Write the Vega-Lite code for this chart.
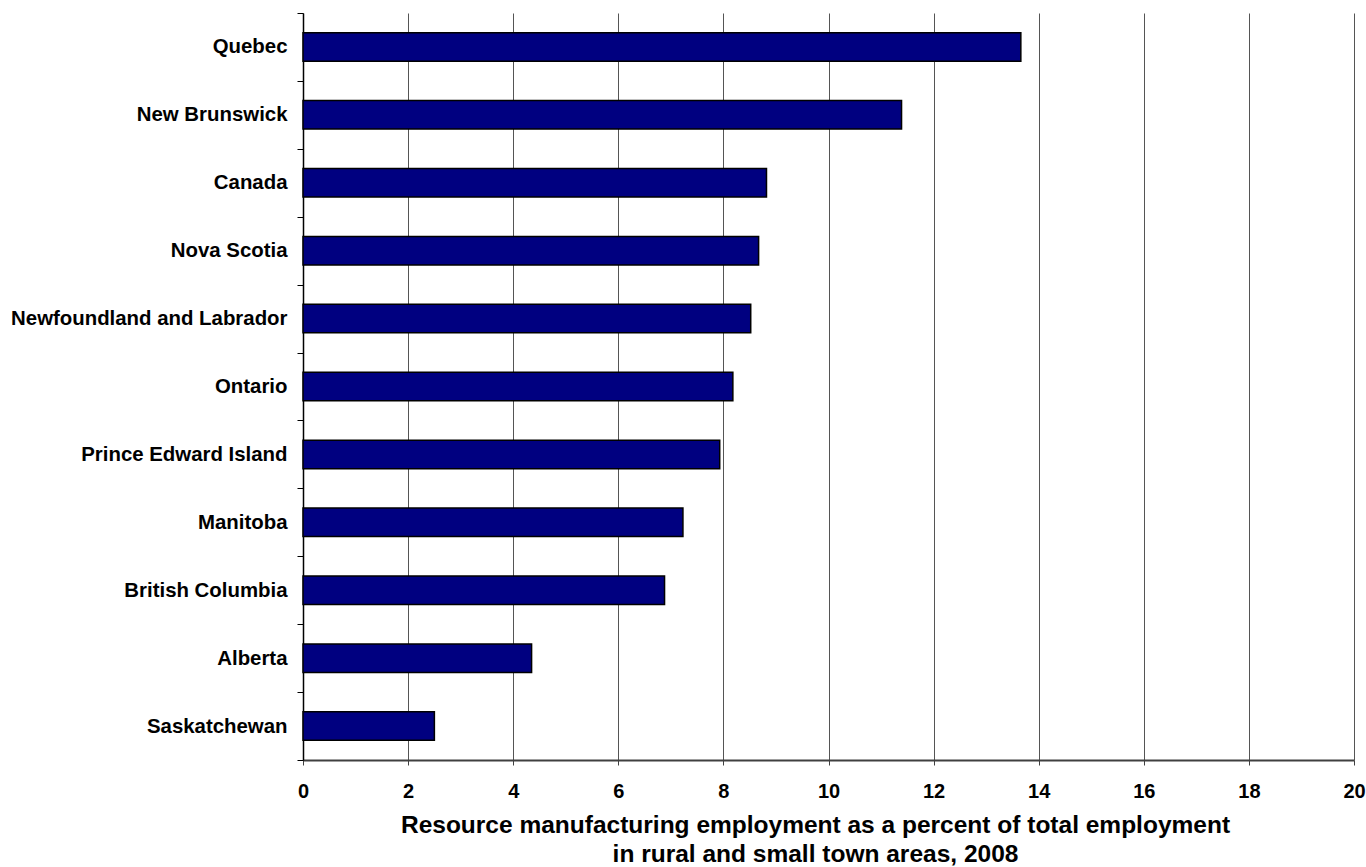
{
  "$schema": "https://vega.github.io/schema/vega-lite/v6.json",
  "width": 1051,
  "height": 747,
  "autosize": {"type": "none"},
  "padding": {"left": 303, "top": 13, "right": 12, "bottom": 107},
  "background": "white",
  "config": {
    "view": {"stroke": null},
    "font": "Liberation Sans"
  },
  "data": {
    "values": [
      {"region": "Quebec", "value": 13.66},
      {"region": "New Brunswick", "value": 11.39},
      {"region": "Canada", "value": 8.82},
      {"region": "Nova Scotia", "value": 8.67},
      {"region": "Newfoundland and Labrador", "value": 8.52},
      {"region": "Ontario", "value": 8.18},
      {"region": "Prince Edward Island", "value": 7.93},
      {"region": "Manitoba", "value": 7.23},
      {"region": "British Columbia", "value": 6.88},
      {"region": "Alberta", "value": 4.35},
      {"region": "Saskatchewan", "value": 2.5}
    ]
  },
  "mark": {"type": "bar", "fill": "#000080", "stroke": "#000000", "strokeWidth": 1.5, "height": {"band": 0.42}},
  "encoding": {
    "y": {
      "field": "region",
      "type": "nominal",
      "sort": null,
      "scale": {"paddingInner": 0, "paddingOuter": 0},
      "axis": {
        "title": null,
        "tickBand": "extent",
        "ticks": true,
        "tickSize": 6,
        "tickColor": "#000000",
        "tickWidth": 1,
        "domainColor": "#000000",
        "domainWidth": 1.5,
        "labelFont": "Liberation Sans",
        "labelFontSize": 20.4,
        "labelFontWeight": "bold",
        "labelColor": "#000000",
        "labelPadding": 10,
        "labelLimit": 0,
        "grid": false
      }
    },
    "x": {
      "field": "value",
      "type": "quantitative",
      "scale": {"domain": [0, 20], "nice": false},
      "axis": {
        "values": [0, 2, 4, 6, 8, 10, 12, 14, 16, 18, 20],
        "grid": true,
        "gridColor": "#555555",
        "gridWidth": 1,
        "domainColor": "#404040",
        "domainWidth": 2,
        "tickColor": "#404040",
        "tickSize": 5,
        "tickWidth": 1,
        "labelFont": "Liberation Sans",
        "labelFontSize": 20,
        "labelFontWeight": "bold",
        "labelColor": "#000000",
        "labelPadding": 16,
        "labelFlush": false,
        "title": ["Resource manufacturing employment as a percent of total employment", "in rural and small town areas, 2008"],
        "titleFont": "Liberation Sans",
        "titleFontSize": 24.5,
        "titleFontWeight": "bold",
        "titleColor": "#000000",
        "titleLineHeight": 29,
        "titleAnchor": "start",
        "titleAlign": "center",
        "titleBaseline": "alphabetic",
        "titleX": 512,
        "titleY": 72
      }
    }
  }
}
